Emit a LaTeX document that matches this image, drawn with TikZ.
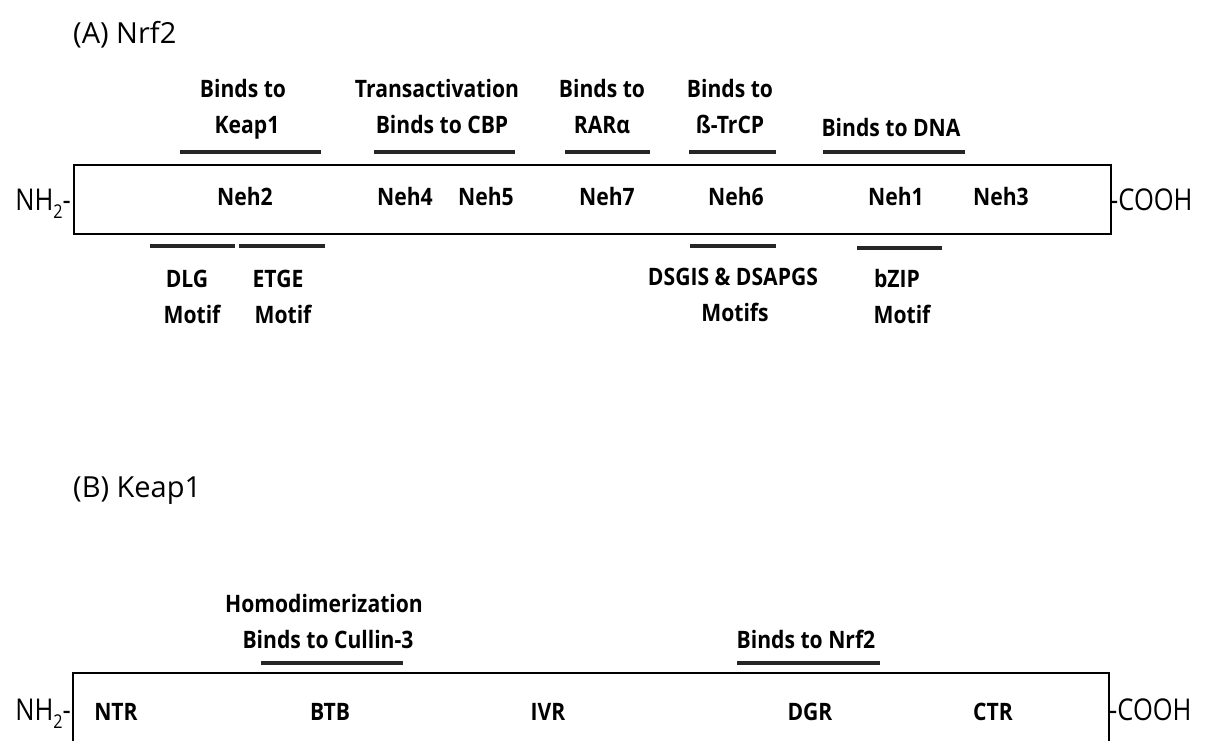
\documentclass[tikz,border=0pt]{standalone}
\usepackage{fontspec}
\setmainfont{Open Sans}[FakeStretch=0.88]
\newfontfamily\endfont{Open Sans}[FakeStretch=0.85]
\newfontfamily\titlefont{Open Sans}
\tikzset{
 lab/.style={font=\bfseries\fontsize{24}{28}\selectfont, inner sep=0pt, anchor=base},
 ttl/.style={font=\titlefont\fontsize{29}{34}\selectfont, inner sep=0pt, anchor=base west},
 term/.style={font=\endfont\fontsize{30}{34}\selectfont, inner sep=0pt},
 bar/.style={line width=3.5pt, draw=black!85},
 protbox/.style={draw, line width=2pt},
}
\newcommand{\subtwo}{\raisebox{-0.28em}{\fontsize{19}{19}\selectfont 2}}
\begin{document}
\begin{tikzpicture}[x=1pt,y=-1pt]
\useasboundingbox[fill=white] (0,0) rectangle (1210,740);

% ---------- (A) Nrf2 ----------
\node[ttl] (tA) at (73,43) {(A) Nrf2};

\node[protbox, anchor=north west, minimum width=1037pt, minimum height=69pt, inner sep=0pt] (nrf2) at (73,164) {};
\node[term, anchor=base east] (nA) at (71,210) {NH\subtwo-};
\node[term, anchor=base west] (cA) at (1110,210) {-COOH};

% top labels
\node[lab] (k1) at (243,97) {Binds to};
\node[lab] (k2) at (247,133) {Keap1};
\draw[bar] (180,152) -- (321,152);

\node[lab] (t1) at (437,97) {Transactivation};
\node[lab] (t2) at (442,133) {Binds to CBP};
\draw[bar] (374,152) -- (515,152);

\node[lab] (r1) at (602,97) {Binds to};
\node[lab] (r2) at (602,133) {RARα};
\draw[bar] (565,152) -- (650,152);

\node[lab] (b1) at (730,97) {Binds to};
\node[lab] (b2) at (730,133) {ß-TrCP};
\draw[bar] (689,152) -- (776,152);

\node[lab] (d1) at (891,136) {Binds to DNA};
\draw[bar] (823,152) -- (965,152);

% inside labels
\node[lab] (neh2) at (245,205) {Neh2};
\node[lab] (neh4) at (405,205) {Neh4};
\node[lab] (neh5) at (486,205) {Neh5};
\node[lab] (neh7) at (607,205) {Neh7};
\node[lab] (neh6) at (736,205) {Neh6};
\node[lab] (neh1) at (896,205) {Neh1};
\node[lab] (neh3) at (1001,205) {Neh3};

% bottom labels
\draw[bar] (150,246) -- (235,246);
\draw[bar] (239,246) -- (325,246);
\draw[bar] (690,246) -- (776,246);
\draw[bar] (857,248) -- (942,248);

\node[lab] (dlg1) at (187,287) {DLG};
\node[lab] (dlg2) at (192,323) {Motif};
\node[lab] (etg1) at (278,287) {ETGE};
\node[lab] (etg2) at (283,323) {Motif};
\node[lab] (ds1) at (733,285) {DSGIS \& DSAPGS};
\node[lab] (ds2) at (735,321) {Motifs};
\node[lab] (bz1) at (897,287) {bZIP};
\node[lab] (bz2) at (902,323) {Motif};

% ---------- (B) Keap1 ----------
\node[ttl] (tB) at (73,497) {(B) Keap1};

\node[lab] (h1) at (324,612) {Homodimerization};
\node[lab] (h2) at (328,648) {Binds to Cullin-3};
\draw[bar] (261,663) -- (403,663);
\node[lab] (n1) at (806,648) {Binds to Nrf2};
\draw[bar] (737,663) -- (880,663);

\draw[protbox] (73,760) -- (73,673) -- (1109,673) -- (1109,760);
\node[term, anchor=base east] (nB) at (71,720) {NH\subtwo-};
\node[term, anchor=base west] (cB) at (1109,720) {-COOH};

\node[lab] (ntr) at (116,720) {NTR};
\node[lab] (btb) at (330,720) {BTB};
\node[lab] (ivr) at (548,720) {IVR};
\node[lab] (dgr) at (810,720) {DGR};
\node[lab] (ctr) at (993,720) {CTR};
\end{tikzpicture}
\end{document}
